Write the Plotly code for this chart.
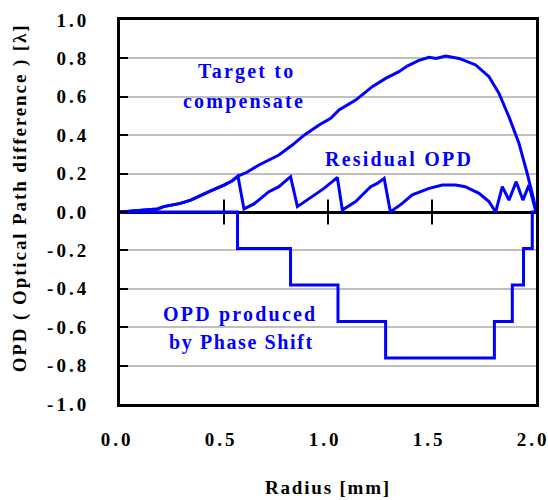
import plotly.graph_objects as go

# Target to compensate
target_r = [0.0, 0.13, 0.18, 0.21, 0.29, 0.34, 0.39, 0.436, 0.50, 0.54, 0.567, 0.61, 0.668, 0.69,
            0.764, 0.83, 0.885, 0.957, 1.013, 1.053, 1.133, 1.213, 1.277, 1.341, 1.381, 1.437,
            1.486, 1.52, 1.566, 1.63, 1.71, 1.774, 1.822, 1.87, 1.918, 1.958, 1.99, 2.0]
target_v = [0.0, 0.01, 0.016, 0.028, 0.045, 0.062, 0.089, 0.11, 0.14, 0.163, 0.187, 0.207, 0.245, 0.257,
            0.297, 0.35, 0.40, 0.453, 0.488, 0.531, 0.583, 0.653, 0.696, 0.731, 0.76, 0.79,
            0.806, 0.80, 0.8125, 0.80, 0.766, 0.705, 0.618, 0.496, 0.358, 0.20, 0.06, 0.0]

# Residual OPD
resid_r = [0.0, 0.13, 0.18, 0.21, 0.29, 0.34, 0.39, 0.436, 0.50, 0.54, 0.567, 0.596, 0.644, 0.69,
           0.716, 0.764, 0.82, 0.853, 0.925, 0.981, 1.045, 1.069, 1.133, 1.205, 1.237, 1.27,
           1.30, 1.357, 1.405, 1.486, 1.55, 1.614, 1.66, 1.726, 1.774, 1.806, 1.838, 1.87,
           1.905, 1.937, 1.966, 2.0]
resid_v = [0.0, 0.01, 0.016, 0.028, 0.045, 0.062, 0.089, 0.11, 0.14, 0.163, 0.187, 0.016, 0.042, 0.085,
           0.106, 0.132, 0.184, 0.028, 0.08, 0.123, 0.18, 0.01, 0.054, 0.132, 0.149, 0.175,
           0.0, 0.045, 0.089, 0.123, 0.14, 0.14, 0.132, 0.097, 0.054, 0.0, 0.132, 0.062,
           0.158, 0.062, 0.14, 0.0]

# OPD produced by phase shift (step profile)
phase_r = [0.0, 0.565, 0.82, 1.048, 1.277, 1.80, 1.886, 1.94, 1.982, 2.0]
phase_v = [0.0, -0.19, -0.38, -0.57, -0.76, -0.57, -0.38, -0.19, 0.0, 0.0]

x_ticks = [0.0, 0.5, 1.0, 1.5, 2.0]
x_ticklabels = ["0.0", "0.5", "1.0", "1.5", "2.0"]
y_ticks = [-1.0, -0.8, -0.6, -0.4, -0.2, 0.0, 0.2, 0.4, 0.6, 0.8, 1.0]
y_ticklabels = ["-1.0", "-0.8", "-0.6", "-0.4", "-0.2", "0.0", "0.2", "0.4", "0.6", "0.8", "1.0"]
zero_axis_ticks = [0.5, 1.0, 1.5]

BLUE = "#0000FF"
FONT = "Liberation Serif"


def spaced(t, px):
    return '<span style="letter-spacing:%spx">%s</span>' % (px, t)


fig = go.Figure()

# tick marks on the zero axis
fig.add_trace(go.Scatter(x=zero_axis_ticks, y=[0] * len(zero_axis_ticks), mode="markers",
                         marker=dict(symbol="line-ns", size=18, color="black",
                                     line=dict(color="black", width=2)),
                         hoverinfo="skip", showlegend=False, cliponaxis=False))

fig.add_trace(go.Scatter(x=target_r, y=target_v, mode="lines",
                         line=dict(color=BLUE, width=3), name="Target", showlegend=False))
fig.add_trace(go.Scatter(x=resid_r, y=resid_v, mode="lines",
                         line=dict(color=BLUE, width=3), name="Residual", showlegend=False))
fig.add_trace(go.Scatter(x=phase_r, y=phase_v, mode="lines", line_shape="hv",
                         line=dict(color=BLUE, width=3), name="Phase", showlegend=False,
                         cliponaxis=False))

ann_font = dict(family=FONT, size=20, color=BLUE, weight="bold")
for txt, x, y, sp in [("Target to", 0.606, 0.734, 2.2), ("compensate", 0.596, 0.578, 2.2),
                      ("Residual OPD", 1.34, 0.276, 2.2), ("OPD produced", 0.575, -0.536, 2.2),
                      ("by Phase Shift", 0.582, -0.682, 1.6)]:
    fig.add_annotation(x=x, y=y, xref="x", yref="y", text=spaced(txt, sp),
                       showarrow=False, font=ann_font, xanchor="center", yanchor="middle")

# y-axis title
fig.add_annotation(x=-0.240, y=0.536, xref="paper", yref="paper",
                   text=spaced("OPD ( Optical Path difference ) [λ]", 1.9), textangle=-90,
                   showarrow=False, xanchor="center", yanchor="middle",
                   font=dict(family=FONT, size=19, color="black", weight="bold"))

fig.update_xaxes(range=[0, 2.0], tickvals=x_ticks,
                 ticktext=[spaced(t, 3) for t in x_ticklabels],
                 ticks="", showgrid=False, zeroline=False, automargin=False,
                 showline=True, linecolor="black", linewidth=3, mirror=True,
                 tickfont=dict(family=FONT, size=19, color="black", weight="bold"),
                 ticklabelstandoff=16, ticklabelshift=-3, ticklabeloverflow="allow",
                 title=dict(text=spaced("Radius [mm]", 1.8),
                            font=dict(family=FONT, size=19, color="black", weight="bold"),
                            standoff=32))
fig.update_yaxes(range=[-1.0, 1.0], tickvals=y_ticks,
                 ticktext=[spaced(t, 3) for t in y_ticklabels],
                 ticks="inside", ticklen=8, tickwidth=2, tickcolor="black",
                 showgrid=True, gridcolor="#C0C0C0", gridwidth=1.5,
                 zeroline=True, zerolinecolor="black", zerolinewidth=2.5, automargin=False,
                 showline=True, linecolor="black", linewidth=3, mirror=True,
                 tickfont=dict(family=FONT, size=19, color="black", weight="bold"),
                 ticklabelstandoff=24, ticklabeloverflow="allow")

fig.update_layout(width=548, height=500, margin=dict(l=120, r=12, t=20, b=96),
                  plot_bgcolor="white", paper_bgcolor="white", showlegend=False)

fig.write_html("out.html", config={"displayModeBar": False},
               post_script="document.body.style.margin='0';document.body.style.overflow='hidden';")
